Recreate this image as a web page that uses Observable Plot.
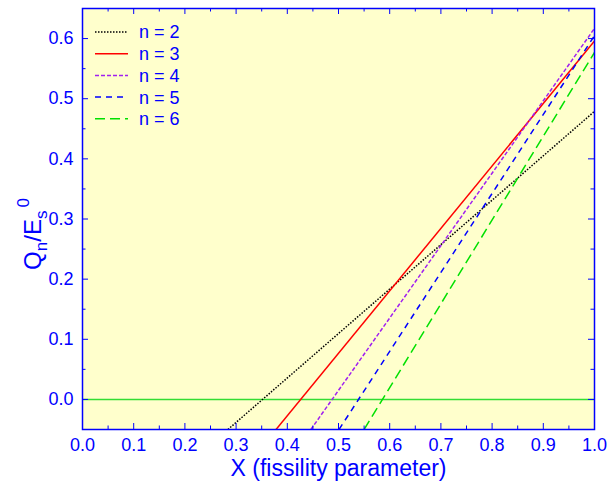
<!DOCTYPE html>
<html>
<head>
<meta charset="utf-8">
<script src="https://cdn.jsdelivr.net/npm/d3@7"></script>
<script src="https://cdn.jsdelivr.net/npm/@observablehq/plot@0.6"></script>
<style>
  html, body { margin: 0; padding: 0; background: #ffffff; }
</style>
</head>
<body>
<div id="chart"></div>
<script>
// Series labels
const seriesNames = ["n = 2", "n = 3", "n = 4", "n = 5", "n = 6"];
// Each series is a straight line: X where it leaves the bottom edge (y = -0.05) and value at X = 1.0
const xAtBottom = [0.284, 0.378, 0.446, 0.501, 0.550];
const yAtBottom = [-0.05, -0.05, -0.05, -0.05, -0.05];
const xAtEnd = [1.0, 1.0, 1.0, 1.0, 1.0];
const yAtEnd = [0.479, 0.596, 0.617, 0.605, 0.577];
// Styles
const colors = ["#000000", "#ff0000", "#a020f0", "#0000ff", "#00e000"];
const dashes = ["1.5,1.5", null, "4,2", "6,5", "10,5"];
// Ticks
const xTicks = [0, 0.1, 0.2, 0.3, 0.4, 0.5, 0.6, 0.7, 0.8, 0.9, 1.0];
const xMinorTicks = [0.05, 0.15, 0.25, 0.35, 0.45, 0.55, 0.65, 0.75, 0.85, 0.95];
const yTicks = [0, 0.1, 0.2, 0.3, 0.4, 0.5, 0.6];
const yMinorTicks = [0.05, 0.15, 0.25, 0.35, 0.45, 0.55];
const zeroLine = [0];

const W = 608, H = 484;
const mL = 82, mR = 14, mT = 8, mB = 55;
const fw = W - mL - mR, fh = H - mT - mB;
const blue = "#0000ff";
const font = "'Liberation Sans', Arial, sans-serif";

const lineMarks = seriesNames.map((name, i) =>
  Plot.line(
    [{x: xAtBottom[i], y: yAtBottom[i]}, {x: xAtEnd[i], y: yAtEnd[i]}],
    {x: "x", y: "y", stroke: colors[i], strokeWidth: 1.5, strokeDasharray: dashes[i], strokeLinecap: "butt", clip: true}
  )
);

const majorLen = 6, minorLen = 3.5;
const tickMarks = [
  Plot.ruleX(xTicks, {x: d => d, insetTop: fh - majorLen, stroke: blue, strokeWidth: 1}),
  Plot.ruleX(xTicks, {x: d => d, insetBottom: fh - majorLen, stroke: blue, strokeWidth: 1}),
  Plot.ruleX(xMinorTicks, {x: d => d, insetTop: fh - minorLen, stroke: blue, strokeWidth: 1}),
  Plot.ruleX(xMinorTicks, {x: d => d, insetBottom: fh - minorLen, stroke: blue, strokeWidth: 1}),
  Plot.ruleY(yTicks, {y: d => d, insetRight: fw - majorLen, stroke: blue, strokeWidth: 1}),
  Plot.ruleY(yTicks, {y: d => d, insetLeft: fw - majorLen, stroke: blue, strokeWidth: 1}),
  Plot.ruleY(yMinorTicks, {y: d => d, insetRight: fw - minorLen, stroke: blue, strokeWidth: 1}),
  Plot.ruleY(yMinorTicks, {y: d => d, insetLeft: fw - minorLen, stroke: blue, strokeWidth: 1})
];

const chart = Plot.plot({
  width: W, height: H,
  marginLeft: mL, marginRight: mR, marginTop: mT, marginBottom: mB,
  x: {domain: [0, 1]},
  y: {domain: [-0.05, 0.65]},
  style: {fontFamily: font, background: "#ffffff", color: blue, overflow: "visible"},
  marks: [
    Plot.frame({fill: "#ffffcc", stroke: null}),
    Plot.ruleY(zeroLine, {y: d => d, stroke: "#33dd33", strokeWidth: 1.5}),
    ...lineMarks,
    ...tickMarks,
    Plot.axisX({ticks: xTicks, tickSize: 0, tickPadding: 9, fontSize: 18, fill: blue, tickFormat: d3.format(".1f"), label: null}),
    Plot.axisY({ticks: yTicks, tickSize: 0, tickPadding: 9, fontSize: 18, fill: blue, tickFormat: d3.format(".1f"), label: null}),
    Plot.text(["X (fissility parameter)"], {text: d => d, frameAnchor: "bottom", dy: 39, lineAnchor: "middle", fontSize: 23, fill: blue}),
    Plot.frame({stroke: blue, strokeWidth: 1.5})
  ]
});

// Y axis title with sub/superscripts
const svg = d3.select(chart);
const yt = svg.append("text")
  .attr("transform", `translate(41, 234) rotate(-90)`)
  .attr("text-anchor", "middle")
  .attr("fill", blue)
  .style("font-family", font)
  .style("font-size", "24px");
yt.append("tspan").text("Q");
yt.append("tspan").attr("dy", 6).style("font-size", "17px").text("n");
yt.append("tspan").attr("dy", -6).text("/E");
yt.append("tspan").attr("dy", 6).style("font-size", "17px").text("s");
yt.append("tspan").attr("dy", -18).attr("dx", 3).style("font-size", "17px").text("0");

// Legend
const lg = svg.append("g").style("font-family", font).style("font-size", "18px");
seriesNames.forEach((name, i) => {
  const yy = 32 + i * 21.7;
  lg.append("line").attr("x1", 95).attr("x2", 128).attr("y1", yy).attr("y2", yy)
    .attr("stroke", colors[i]).attr("stroke-width", 1.5)
    .attr("stroke-dasharray", dashes[i]);
  lg.append("text").attr("x", 139).attr("y", yy).attr("dy", "0.36em")
    .attr("text-anchor", "start")
    .attr("fill", blue).text(name);
});

document.getElementById("chart").appendChild(chart);
</script>
</body>
</html>
